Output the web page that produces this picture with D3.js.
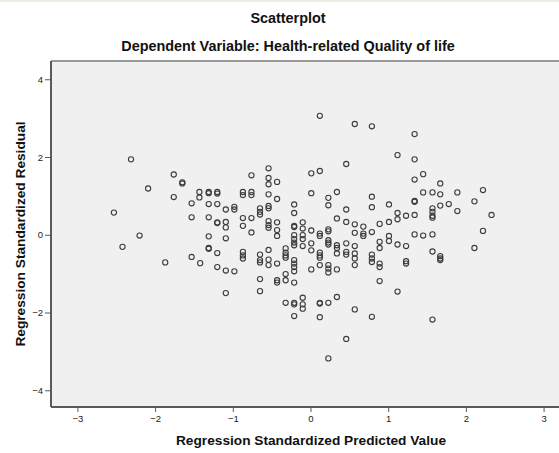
<!DOCTYPE html>
<html>
<head>
<meta charset="utf-8">
<script src="https://cdn.jsdelivr.net/npm/d3@7/dist/d3.min.js"></script>
<style>
  html, body { margin: 0; padding: 0; background: #ffffff; }
  svg { display: block; font-family: "Liberation Sans", Arial, sans-serif; }
</style>
</head>
<body>
<script>
const title = "Scatterplot";
const subtitle = "Dependent Variable: Health-related Quality of life";
const xLabel = "Regression Standardized Predicted Value";
const yLabel = "Regression Standardized Residual";
const xTicks = [-3, -2, -1, 0, 1, 2, 3];
const yTicks = [-4, -2, 0, 2, 4];

// Regression standardized predicted values (x) and residuals (y)
const predicted = [
  -2.31, 0.12, 0.57, 0.79, 1.12, 0.46, 0.01, 0.12, 1.34, 1.34, 1.45,
  -2.09, -2.53, -2.20, -2.42, -1.87,
  -1.76, -1.65, -1.65, -1.76, -1.43, -1.43, -1.31, -1.31, -1.20, -1.20,
  -1.53, -1.31, -1.20, -1.09, -0.98, -0.98, -0.87, -0.87, -0.76, -0.76, -0.76,
  -0.54, -0.54, -0.54, -0.43, -0.54, -0.43, -0.54, -0.54, -0.65, -0.65, -0.65,
  -1.53, -1.31, -1.20, -1.20, -1.09, -1.09, -1.09, -1.31, -0.87, -0.76, -0.87, -0.76,
  -0.54, -0.54, -0.54, -0.43, -0.43, -0.43,
  -1.31, -1.31, -1.20, -1.53, -1.42, -0.87, -0.87, -0.87, -0.65, -0.65, -0.65,
  -0.54, -0.54, -0.54, -0.43, -0.32, -0.32, -0.32, -0.32,
  -1.20, -1.09, -0.98, -0.65, -0.43, -0.43, -0.32,
  0.01, 0.34, 0.23, 0.23, -0.21, -0.21, 0.46, 0.79, 0.79, 1.01, 1.12, 1.12, 1.23,
  1.01, 0.89, 0.34, 0.46, 0.57, 0.68, 0.57, 0.68, 0.68, 0.79,
  -0.21, -0.21, -0.10, -0.10, -0.21, -0.21, -0.21, -0.21, -0.10, -0.10, -0.10,
  0.01, 0.12, 0.12, 0.23, 0.23, 0.01, 0.01, 0.23, 0.23, 0.23,
  0.34, 0.34, 0.34, 0.46, 0.46, 0.46, 0.57, 0.57, 0.57, 0.57,
  0.12, 0.12, 0.12, 0.12, 0.23, 0.23, 0.23, 0.34, 0.01,
  -0.21, -0.21, -0.21, -0.21, -0.32, -0.21,
  0.79, 0.79, 0.79, 0.89, 0.89, 1.01, 1.01, 1.12, 1.23, 0.89, 0.89, 0.89, 1.23, 1.23,
  1.34, 1.67, 1.45, 1.57, 1.67, 1.89, 2.22, 1.34, 1.34, 1.67, 1.78, 1.89, 2.11, 2.33,
  1.57, 1.57, 1.57, 1.57, 1.34, 1.34, 1.45, 1.57, 2.22, 2.11, 1.57, 1.67, 1.67, 1.67,
  -1.09, -0.65, -0.10, -0.32, -0.21, -0.21, -0.10, -0.10, 0.12, 0.12, 0.23, 0.34,
  -0.21, 0.12, 0.57, 0.79, 1.57, 1.12, 0.46, 0.23
];
const residual = [
  1.94, 3.06, 2.85, 2.79, 2.05, 1.82, 1.58, 1.64, 2.59, 1.94, 1.56,
  1.19, 0.57, -0.02, -0.31, -0.71,
  1.55, 1.35, 1.32, 0.97, 1.10, 0.96, 1.10, 1.07, 1.10, 1.06,
  0.81, 0.79, 0.79, 0.65, 0.72, 0.65, 1.10, 1.02, 1.10, 1.02, 1.53,
  1.71, 1.46, 1.30, 1.36, 1.04, 0.92, 0.74, 0.68, 0.68, 0.59, 0.52,
  0.45, 0.45, 0.32, 0.30, 0.33, 0.19, -0.09, -0.04, 0.43, 0.43, 0.23, 0.06,
  0.35, 0.25, 0.18, 0.32, 0.12, -0.03,
  -0.34, -0.36, -0.47, -0.57, -0.73, -0.44, -0.53, -0.61, -0.51, -0.65, -0.71,
  -0.39, -0.64, -0.78, -0.74, -0.35, -0.46, -0.53, -0.59,
  -0.83, -0.92, -0.94, -1.14, -1.17, -1.23, -1.01,
  1.07, 1.10, 0.95, 0.76, 0.78, 0.56, 0.65, 0.98, 0.71, 0.78, 0.56, 0.40, 0.49,
  0.33, 0.28, 0.42, 0.33, 0.27, 0.21, 0.05, 0.03, -0.03, 0.07,
  0.23, 0.20, 0.32, 0.16, -0.01, -0.11, -0.20, -0.27, -0.01, -0.11, -0.29,
  0.11, 0.03, -0.03, 0.14, 0.09, -0.22, -0.40, -0.14, -0.20, -0.25,
  -0.27, -0.34, -0.48, -0.22, -0.44, -0.51, -0.29, -0.48, -0.61, -0.78,
  -0.46, -0.53, -0.59, -0.78, -0.78, -0.87, -0.97, -0.89, -0.89,
  -0.65, -0.74, -0.83, -0.94, -1.17, -1.23,
  -0.51, -0.61, -0.70, -0.18, -0.34, -0.03, -0.16, -0.25, -0.29, -0.74, -0.83, -1.19, -0.68, -0.74,
  1.42, 1.32, 1.09, 1.09, 1.04, 1.09, 1.15, 0.87, 0.85, 0.75, 0.79, 0.61, 0.86, 0.51,
  0.68, 0.59, 0.49, 0.44, 0.51, 0.01, -0.02, 0.01, 0.10, -0.34, -0.43, -0.55, -0.61, -0.65,
  -1.50, -1.45, -1.62, -1.75, -1.75, -1.79, -1.79, -1.90, -1.77, -1.75, -1.75, -1.60,
  -2.09, -2.12, -1.92, -2.11, -2.18, -1.46, -2.68, -3.18
];

const W = 559, H = 453;
const plot = { left: 51, top: 61, right: 570, bottom: 407 };

const svg = d3.select("body").append("svg").attr("width", W).attr("height", H);

svg.append("rect").attr("x", 0).attr("y", 0).attr("width", W).attr("height", 2).attr("fill", "#eeede4");

const x = d3.scaleLinear().domain([-3.34, 3.34]).range([plot.left, plot.right]);
const y = d3.scaleLinear().domain([-4.43, 4.47]).range([plot.bottom, plot.top]);

svg.append("rect")
  .attr("x", plot.left).attr("y", plot.top)
  .attr("width", plot.right - plot.left).attr("height", plot.bottom - plot.top)
  .attr("fill", "#f0f0f0");

// top border
svg.append("line").attr("x1", plot.left).attr("x2", plot.right)
  .attr("y1", plot.top).attr("y2", plot.top)
  .attr("stroke", "#7a7a7a").attr("stroke-width", 1.5);

const points = predicted.map((p, i) => ({ p, r: residual[i] }));

svg.append("g").selectAll("circle").data(points).join("circle")
  .attr("cx", d => x(d.p)).attr("cy", d => y(d.r))
  .attr("r", 2.6).attr("fill", "none")
  .attr("stroke", "#3c3c3c").attr("stroke-width", 1.1);

const xAxis = svg.append("g").attr("transform", `translate(0,${plot.bottom})`)
  .call(d3.axisBottom(x).tickValues(xTicks).tickFormat(d3.format("d")).tickSize(5).tickPadding(3));
const yAxis = svg.append("g").attr("transform", `translate(${plot.left},0)`)
  .call(d3.axisLeft(y).tickValues(yTicks).tickFormat(d3.format("d")).tickSize(6).tickPadding(2));

[xAxis, yAxis].forEach(g => {
  g.select(".domain").attr("stroke", "#5a5a5a").attr("stroke-width", 2);
  g.selectAll(".tick line").attr("stroke", "#5a5a5a").attr("stroke-width", 1);
  g.selectAll(".tick text").attr("fill", "#222").attr("font-size", 9.5)
    .attr("font-family", "'Liberation Sans', Arial, sans-serif");
});
xAxis.select(".domain").attr("d", `M${plot.left},0H${plot.right}`);
yAxis.select(".domain").attr("d", `M0,${plot.top}V${plot.bottom}`);

svg.append("text").attr("x", 288).attr("y", 23).attr("text-anchor", "middle")
  .attr("font-weight", "bold").attr("font-size", 14.4).attr("fill", "#111").text(title);
svg.append("text").attr("x", 288).attr("y", 51).attr("text-anchor", "middle")
  .attr("font-weight", "bold").attr("font-size", 14.4).attr("fill", "#111").text(subtitle);
svg.append("text").attr("x", 311).attr("y", 445).attr("text-anchor", "middle")
  .attr("font-weight", "bold").attr("font-size", 13.7).attr("fill", "#111").text(xLabel);
svg.append("text").attr("transform", "translate(25,234) rotate(-90)").attr("text-anchor", "middle")
  .attr("font-weight", "bold").attr("font-size", 13.7).attr("fill", "#111").text(yLabel);
</script>
</body>
</html>
